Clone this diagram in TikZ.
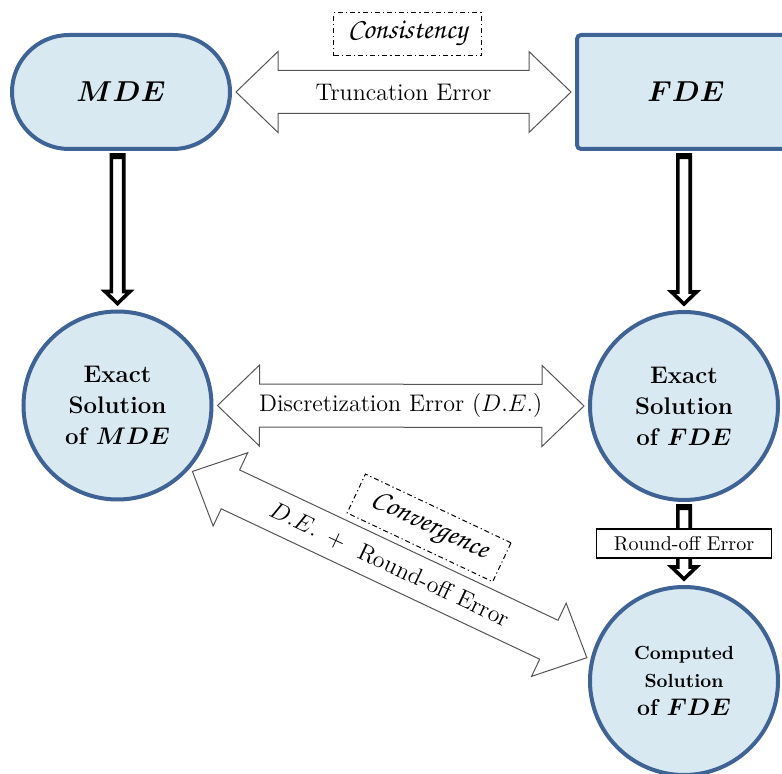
\documentclass[tikz,border=0pt]{standalone}
\usepackage{amsmath}
\usepackage{bm}
\usepackage[T1,TU]{fontenc}
\usetikzlibrary{shapes.misc, calc, positioning}

\definecolor{nodeblue}{RGB}{63,99,148}
\definecolor{nodefill}{RGB}{216,233,242}
\definecolor{arrowgray}{RGB}{85,85,85}

\newcommand{\handfont}{\fontencoding{T1}\fontfamily{pzc}\fontseries{m}\fontshape{it}\fontsize{14.5}{16}\selectfont}

\tikzset{
  blue node/.style={draw=nodeblue, line width=2pt, fill=nodefill, align=center, inner sep=0pt},
  solution/.style={blue node, circle, minimum size=94pt, font=\fontsize{12}{15.5}\selectfont\bfseries},
  label text/.style={font=\fontsize{12}{14}\selectfont, inner sep=1pt},
  idea box/.style={draw, line width=0.5pt, dash pattern=on 2.5pt off 1.5pt on 0.6pt off 1.5pt,
    minimum height=21.5pt, inner sep=0pt},
  round box/.style={draw, fill=white, line width=0.8pt, minimum width=87.5pt, minimum height=14.5pt,
    inner sep=0pt, font=\fontsize{10}{12}\selectfont},
  fat double/.style={draw=arrowgray, fill=white, line width=0.5pt,
    to path={let \p1=($(\tikztostart)!2pt!(\tikztotarget)$), \p2=($(\tikztotarget)!2pt!(\tikztostart)$),
      \n1={atan2(\y2-\y1,\x2-\x1)} in
      (\p1) -- ($(\p1)+(\n1:21pt)+(\n1+90:20.25pt)$) -- ($(\p1)+(\n1:21pt)+(\n1+90:10.75pt)$)
      -- ($(\p2)-(\n1:21pt)+(\n1+90:10.75pt)$) -- ($(\p2)-(\n1:21pt)+(\n1+90:20.25pt)$)
      -- (\p2) -- ($(\p2)-(\n1:21pt)+(\n1-90:20.25pt)$) -- ($(\p2)-(\n1:21pt)+(\n1-90:10.75pt)$)
      -- ($(\p1)+(\n1:21pt)+(\n1-90:10.75pt)$) -- ($(\p1)+(\n1:21pt)+(\n1-90:20.25pt)$) -- cycle}},
  hollow arrow/.style={draw, fill=white, line width=1.8pt,
    to path={let \p1=($(\tikztostart)!2pt!(\tikztotarget)$), \p2=($(\tikztotarget)!3pt!(\tikztostart)$),
      \n1={atan2(\y2-\y1,\x2-\x1)} in
      ($(\p1)+(\n1+90:3.1pt)$) -- ($(\p2)-(\n1:6pt)+(\n1+90:3.1pt)$) -- ($(\p2)-(\n1:6pt)+(\n1+90:6.25pt)$)
      -- (\p2) -- ($(\p2)-(\n1:6pt)+(\n1-90:6.25pt)$) -- ($(\p2)-(\n1:6pt)+(\n1-90:3.1pt)$)
      -- ($(\p1)+(\n1-90:3.1pt)$) -- cycle
      ($(\p1)+(\n1+90:3.1pt)$) -- ($(\p1)+(\n1:1.2pt)+(\n1+90:3.1pt)$)
      -- ($(\p1)+(\n1:1.2pt)+(\n1-90:3.1pt)$) -- ($(\p1)+(\n1-90:3.1pt)$) -- cycle}}
}

\begin{document}
\begin{tikzpicture}[x=0.5pt, y=-0.5pt]
\useasboundingbox (0,0) rectangle (782,774);

\node[blue node, rounded rectangle, minimum width=109pt, minimum height=57pt,
  font=\fontsize{15}{18}\selectfont] (mde) at (121,92) {$\bm{MDE}$};
\node[blue node, rectangle, rounded corners=2pt, minimum width=109pt, minimum height=57pt,
  font=\fontsize{15}{18}\selectfont] (fde) at (686,92) {$\bm{FDE}$};
\node[solution] (esm) at (117.5,405.5) {Exact\\Solution\\of $\bm{MDE}$};
\node[solution] (efs) at (684,406) {Exact\\Solution\\of $\bm{FDE}$};
\node[solution, font=\fontsize{9.5}{14}\selectfont\bfseries] (csf) at (684,681)
  {Computed\\Solution\\{\fontsize{11.5}{14}\selectfont of $\bm{FDE}$}};

\draw[fat double] (mde.east) to (fde.west);
\draw[fat double] (esm.east) to (efs.west);
\draw[fat double] (esm.-42) to (csf.167);

\draw[hollow arrow] (esm.north |- mde.south) to (esm.north);
\draw[hollow arrow] (efs.north |- fde.south) to (efs.north);
\draw[hollow arrow] (efs.south) to (csf.north);

\path (mde) -- node[label text] (trunc) {Truncation Error} (fde);
\path (esm) -- node[label text] (discr) {Discretization Error $(D.E.)$} (efs);
\path (esm.-42) -- node[label text, sloped] (derr) {$D.E.$\ \,+\ \ Round-off Error} (csf.167);
\path (esm.-42) -- node[idea box, sloped, pos=0.545, above=14pt, minimum width=80.5pt]
  (conv) {\handfont Convergence} (csf.167);
\node[idea box, minimum width=74pt] (cons) at (407.5,34.5) {\handfont Consistency};
\path (efs) -- node[round box] (roe) {Round-off Error} (csf);
\end{tikzpicture}
\end{document}
